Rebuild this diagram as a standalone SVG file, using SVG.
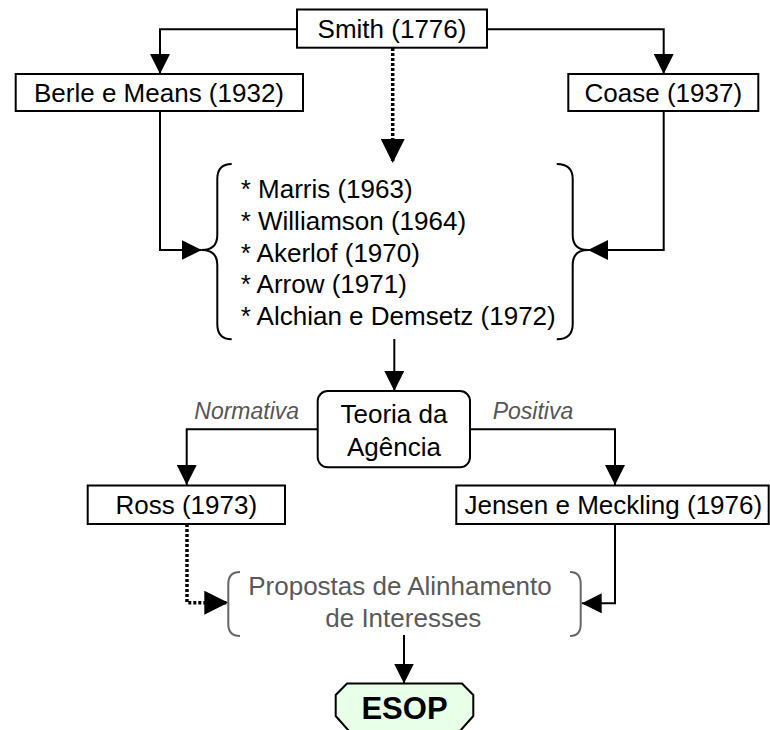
<svg xmlns="http://www.w3.org/2000/svg" width="770" height="730" viewBox="0 0 770 730">
<style>
.box{fill:#fff;stroke:#000;stroke-width:2}
.t{font-family:"Liberation Sans",Arial,sans-serif;font-size:26px;fill:#000}
.c{text-anchor:middle}
.lab{font-family:"Liberation Sans",Arial,sans-serif;font-size:23px;font-style:italic;fill:#555}
.gray{fill:#595959}
.ln{fill:none;stroke:#000;stroke-width:2}
.dot{fill:none;stroke:#000;stroke-width:3.5;stroke-dasharray:3 2}
.br{fill:none;stroke:#000;stroke-width:2}
.brg{fill:none;stroke:#666;stroke-width:2}
</style>
<defs>
<marker id="arr" markerUnits="userSpaceOnUse" markerWidth="20" markerHeight="20" refX="20" refY="10" orient="auto">
<path d="M0,0 L20,10 L0,20 Z" fill="#000"/>
</marker>
<marker id="arrd" markerUnits="userSpaceOnUse" markerWidth="24" markerHeight="24" refX="24" refY="12" orient="auto">
<path d="M0,0 L24,12 L0,24 Z" fill="#000"/>
</marker>
</defs>
<rect width="770" height="730" fill="#fff"/>
<g id="connectors">
<path class="ln" d="M297,29.3 H160 V74" marker-end="url(#arr)"/>
<path class="ln" d="M487,29.3 H663.7 V74" marker-end="url(#arr)"/>
<path class="dot" d="M392.7,48 V163" marker-end="url(#arrd)"/>
<path class="ln" d="M160,111 V250 H201.7" marker-end="url(#arr)"/>
<path class="ln" d="M663.7,111 V250 H588" marker-end="url(#arr)"/>
<path class="ln" d="M394.3,339 V391" marker-end="url(#arr)"/>
<path class="ln" d="M317.7,429.3 H186.7 V485" marker-end="url(#arr)"/>
<path class="ln" d="M470,429.3 H615 V485" marker-end="url(#arr)"/>
<path class="dot" d="M187,524 V602.7 H228.3" marker-end="url(#arrd)"/>
<path class="ln" d="M615,524 V603.3 H581.7" marker-end="url(#arr)"/>
<path class="ln" d="M404,635 V683.5" marker-end="url(#arr)"/>
</g>
<g id="smith">
<rect class="box" x="297" y="9.5" width="190" height="38.2"/>
<text class="t c" x="392" y="38">Smith (1776)</text>
</g>
<g id="berle">
<rect class="box" x="15.7" y="74" width="287.3" height="37"/>
<text class="t c" x="159" y="101.5">Berle e Means (1932)</text>
</g>
<g id="coase">
<rect class="box" x="568.3" y="74" width="190" height="37"/>
<text class="t c" x="663.3" y="101.5">Coase (1937)</text>
</g>
<g id="list">
<path class="br" d="M231.7,164 Q217.3,164 217.3,179 L217.3,235 Q217.3,250 201.7,250 Q217.3,250 217.3,265 L217.3,324 Q217.3,339.3 231.7,339.3"/>
<path class="br" d="M556.7,164 Q572.7,164 572.7,179 L572.7,235 Q572.7,250 588,250 Q572.7,250 572.7,265 L572.7,324 Q572.7,339.3 556.7,339.3"/>
<text class="t" x="240.7" y="198.3">* Marris (1963)</text>
<text class="t" x="240.7" y="230">* Williamson (1964)</text>
<text class="t" x="240.7" y="261.7">* Akerlof (1970)</text>
<text class="t" x="240.7" y="293.3">* Arrow (1971)</text>
<text class="t" x="240.7" y="325">* Alchian e Demsetz (1972)</text>
</g>
<g id="teoria">
<rect class="box" x="317.7" y="391" width="152.3" height="76.3" rx="10" ry="10"/>
<text class="t c" x="394" y="423.3">Teoria da</text>
<text class="t c" x="394" y="456">Agência</text>
</g>
<g id="labels">
<text class="lab" x="194.3" y="419.3">Normativa</text>
<text class="lab" x="492.7" y="419.3">Positiva</text>
</g>
<g id="ross">
<rect class="box" x="87.7" y="485.5" width="197.3" height="38.5"/>
<text class="t c" x="186.3" y="513.8">Ross (1973)</text>
</g>
<g id="jensen">
<rect class="box" x="456.3" y="485.5" width="312.4" height="38.5"/>
<text class="t c" x="613.3" y="513.8">Jensen e Meckling (1976)</text>
</g>
<g id="propostas">
<path class="brg" d="M240,572 Q228.3,572 228.3,584 L228.3,624 Q228.3,636 240,636"/>
<path class="brg" d="M570,572 Q580.7,572 580.7,584 L580.7,624 Q580.7,636 570,636"/>
<text class="t c gray" x="400" y="595">Propostas de Alinhamento</text>
<text class="t c gray" x="403.3" y="626.7">de Interesses</text>
</g>
<g id="esop">
<path d="M347,683.5 H462 L473.3,695 V716 L460,731 H349 L335.7,716 V695 Z" fill="#e8ffe8" stroke="none"/>
<path d="M349,731 L335.7,716 V695 L347,683.5 H462 L473.3,695 V716 L460,731" fill="none" stroke="#000" stroke-width="2"/>
<text x="404.5" y="719.3" text-anchor="middle" font-family="'Liberation Sans',Arial,sans-serif" font-size="31" font-weight="bold" fill="#000">ESOP</text>
</g>
</svg>
